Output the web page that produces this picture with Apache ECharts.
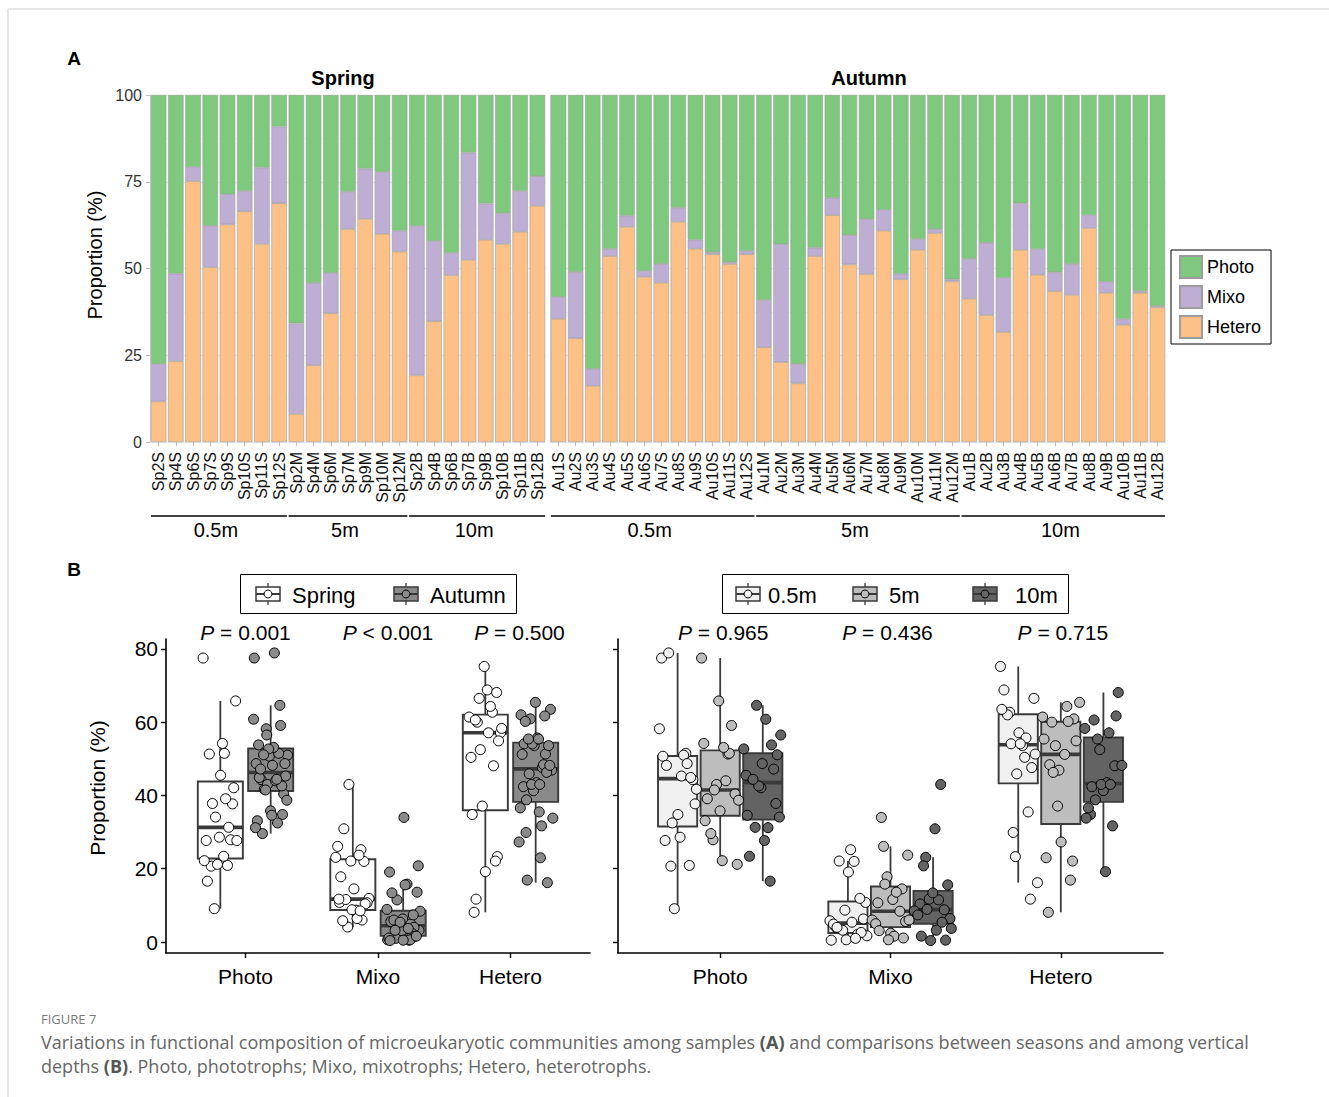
<!DOCTYPE html>
<html>
<head>
<meta charset="utf-8">
<script src="https://cdn.jsdelivr.net/npm/echarts@6/dist/echarts.min.js"></script>
<style>
  html, body { margin: 0; padding: 0; background: #ffffff; }
  #chart { width: 1329px; height: 1097px; }
</style>
</head>
<body>
<div id="chart"></div>
<script>
// ---- Sample composition (%), spring cruise ----
const springSamples = ['Sp2S','Sp4S','Sp6S','Sp7S','Sp9S','Sp10S','Sp11S','Sp12S',
  'Sp2M','Sp4M','Sp6M','Sp7M','Sp9M','Sp10M','Sp12M',
  'Sp2B','Sp4B','Sp6B','Sp7B','Sp9B','Sp10B','Sp11B','Sp12B'];
const springHetero = [11.7,23.3,75.2,50.4,62.7,66.5,57.1,68.8, 8.1,22.1,37.1,61.4,64.3,60.0,54.9, 19.2,34.8,48.1,52.5,58.3,57.1,60.6,68.1];
const springMixo   = [10.8,25.2,4.1,11.9,8.7,5.8,22.0,22.1, 26.1,23.7,11.6,10.7,14.5,17.8,6.0, 43.0,23.1,6.4,30.9,10.4,8.8,11.7,8.5];
const springPhoto  = [77.5,51.5,20.7,37.7,28.6,27.7,20.9,9.1, 65.8,54.2,51.3,27.9,21.2,22.2,39.1, 37.8,42.1,45.5,16.6,31.3,34.1,27.7,23.4];

// ---- Sample composition (%), autumn cruise ----
const autumnSamples = ['Au1S','Au2S','Au3S','Au4S','Au5S','Au6S','Au7S','Au8S','Au9S','Au10S','Au11S','Au12S',
  'Au1M','Au2M','Au3M','Au4M','Au5M','Au6M','Au7M','Au8M','Au9M','Au10M','Au11M','Au12M',
  'Au1B','Au2B','Au3B','Au4B','Au5B','Au6B','Au7B','Au8B','Au9B','Au10B','Au11B','Au12B'];
const autumnHetero = [35.5,29.9,16.2,53.6,62.0,47.6,45.9,63.5,55.7,54.1,51.3,54.1,
  27.3,23.0,16.9,53.6,65.4,51.2,48.4,60.9,46.9,55.4,60.2,46.3,
  41.3,36.6,31.7,55.4,48.2,43.5,42.4,61.7,43.0,33.8,43.0,38.8];
const autumnMixo = [6.3,19.1,4.9,2.1,3.2,1.7,5.4,4.0,2.6,0.6,0.5,1.0,
  13.6,34.0,5.6,2.4,5.0,8.4,15.8,6.0,1.6,3.1,1.1,0.6,
  11.5,20.8,15.6,13.4,7.4,5.4,8.9,3.7,3.2,1.6,0.5,0.4];
const autumnPhoto = [58.2,51.0,78.9,44.3,34.8,50.7,48.7,32.5,41.7,45.3,48.2,44.9,
  59.1,43.0,77.5,44.0,29.6,40.4,35.8,33.1,51.5,41.5,38.7,53.1,
  47.2,42.6,52.7,31.2,44.4,51.1,48.7,34.6,53.8,64.6,56.5,60.8];

// ---- Labels ----
const groups = ['Photo', 'Mixo', 'Hetero'];
const seasons = ['Spring', 'Autumn'];
const depths = ['0.5m', '5m', '10m'];
const depthBySuffix = { S: '0.5m', M: '5m', B: '10m' };
const seasonP = ['= 0.001', '< 0.001', '= 0.500'];
const depthP = ['= 0.965', '= 0.436', '= 0.715'];
const pctTicksB = [0, 20, 40, 60, 80];

const FONT = "'Liberation Sans', Arial, Helvetica, sans-serif";
const TYPE_COLORS = { Photo: '#7fc97f', Mixo: '#beaed4', Hetero: '#fdc086' };
const SEASON_FILL = { Spring: '#ffffff', Autumn: '#8a8a8a' };
const DEPTH_FILL = { '0.5m': '#f0f0f0', '5m': '#bdbdbd', '10m': '#636363' };
const BOX_LINE = '#3a3a3a';

const chart = echarts.init(document.getElementById('chart'), null, { renderer: 'svg' });

// ---------- helpers ----------
function quantile(sorted, p) {
  const h = (sorted.length - 1) * p;
  const lo = Math.floor(h);
  const hi = Math.min(lo + 1, sorted.length - 1);
  return sorted[lo] + (h - lo) * (sorted[hi] - sorted[lo]);
}
function boxStats(vals) {
  const s = vals.slice().sort((a, b) => a - b);
  const q1 = quantile(s, 0.25), med = quantile(s, 0.5), q3 = quantile(s, 0.75);
  const iqr = q3 - q1;
  const lo = s.find(v => v >= q1 - 1.5 * iqr);
  const hi = s.slice().reverse().find(v => v <= q3 + 1.5 * iqr);
  return [lo, q1, med, q3, hi];
}
// deterministic horizontal spread for overlapping points
function spread(i, k, w) {
  const f = (i * 0.6180339887 + k * 0.3719) % 1;
  return (2 * f - 1) * w;
}

function boxSeries(axisIdx, rows, fill, halfW) {
  return {
    type: 'custom',
    coordinateSystem: 'cartesian2d',
    xAxisIndex: axisIdx, yAxisIndex: axisIdx,
    silent: true, z: 2,
    dimensions: ['x', 'lo', 'q1', 'med', 'q3', 'hi'],
    encode: { x: 0, y: [1, 5] },
    data: rows,
    renderItem: function (params, api) {
      const x = api.value(0);
      const pLo = api.coord([x, api.value(1)]);
      const pQ1 = api.coord([x, api.value(2)]);
      const pMed = api.coord([x, api.value(3)]);
      const pQ3 = api.coord([x, api.value(4)]);
      const pHi = api.coord([x, api.value(5)]);
      const left = api.coord([x - halfW, api.value(2)])[0];
      const right = api.coord([x + halfW, api.value(2)])[0];
      const ls = { stroke: BOX_LINE, lineWidth: 1.8 };
      return {
        type: 'group',
        children: [
          { type: 'line', shape: { x1: pHi[0], y1: pHi[1], x2: pQ3[0], y2: pQ3[1] }, style: ls },
          { type: 'line', shape: { x1: pQ1[0], y1: pQ1[1], x2: pLo[0], y2: pLo[1] }, style: ls },
          { type: 'rect', shape: { x: left, y: pQ3[1], width: right - left, height: pQ1[1] - pQ3[1] },
            style: { fill: fill, stroke: BOX_LINE, lineWidth: 1.9 } },
          { type: 'line', shape: { x1: left, y1: pMed[1], x2: right, y2: pMed[1] },
            style: { stroke: BOX_LINE, lineWidth: 3.6 } }
        ]
      };
    }
  };
}
function pointSeries(axisIdx, pts, fill) {
  return {
    type: 'scatter', xAxisIndex: axisIdx, yAxisIndex: axisIdx,
    silent: true, z: 5, symbol: 'circle', symbolSize: 10,
    itemStyle: { color: fill, borderColor: '#000', borderWidth: 1, opacity: 1 },
    data: pts
  };
}

// ---------- panel A: stacked bars ----------
const barStyle = name => ({ color: TYPE_COLORS[name], borderColor: '#9c9c9c', borderWidth: 0.6 });
function barSet(axisIdx, stackId, hetero, mixo, photo) {
  const mk = (name, vals) => ({
    name: name, type: 'bar', stack: stackId,
    xAxisIndex: axisIdx, yAxisIndex: axisIdx,
    barCategoryGap: '10%', itemStyle: barStyle(name), data: vals, silent: true
  });
  return [mk('Hetero', hetero), mk('Mixo', mixo), mk('Photo', photo)];
}

const catAxisA = (data, idx) => ({
  type: 'category', gridIndex: idx, data: data,
  axisLine: { show: false },
  axisTick: { show: true, alignWithLabel: true, length: 4, lineStyle: { color: '#bdbdbd' } },
  axisLabel: { interval: 0, rotate: 90, fontSize: 16, color: '#111', fontFamily: FONT, margin: 10 },
  splitLine: { show: false }
});
const valAxisA = (idx, showLabels) => ({
  type: 'value', gridIndex: idx, min: 0, max: 100, interval: 25,
  axisLine: { show: true, lineStyle: { color: '#d4d4d4', width: 1 } },
  axisTick: { show: showLabels, length: 4, lineStyle: { color: '#bdbdbd' } },
  axisLabel: { show: showLabels, fontSize: 16, color: '#333', fontFamily: FONT, margin: 8 },
  splitLine: { show: true, lineStyle: { color: '#e6e6e6', width: 1 } },
  minorTick: { show: false, splitNumber: 2 },
  minorSplitLine: { show: true, lineStyle: { color: '#f0f0f0', width: 0.8 } }
});

// ---------- panel B: box plots ----------
const seasonVals = {
  Spring: { Photo: springPhoto, Mixo: springMixo, Hetero: springHetero },
  Autumn: { Photo: autumnPhoto, Mixo: autumnMixo, Hetero: autumnHetero }
};
const depthVals = {};
depths.forEach(d => { depthVals[d] = { Photo: [], Mixo: [], Hetero: [] }; });
springSamples.forEach((s, i) => {
  const d = depthBySuffix[s.slice(-1)];
  depthVals[d].Photo.push(springPhoto[i]); depthVals[d].Mixo.push(springMixo[i]); depthVals[d].Hetero.push(springHetero[i]);
});
autumnSamples.forEach((s, i) => {
  const d = depthBySuffix[s.slice(-1)];
  depthVals[d].Photo.push(autumnPhoto[i]); depthVals[d].Mixo.push(autumnMixo[i]); depthVals[d].Hetero.push(autumnHetero[i]);
});

const seriesB = [];
const SEASON_OFF = [-0.19, 0.19];
seasons.forEach((sea, si) => {
  const rows = [], pts = [];
  groups.forEach((g, gi) => {
    const x = gi + 1 + SEASON_OFF[si];
    rows.push([x].concat(boxStats(seasonVals[sea][g])));
    seasonVals[sea][g].forEach((v, i) => pts.push([x + spread(i, gi * 3 + si, 0.13), v]));
  });
  seriesB.push(boxSeries(2, rows, SEASON_FILL[sea], 0.17));
  seriesB.push(pointSeries(2, pts, SEASON_FILL[sea]));
});
const DEPTH_OFF = [-0.25, 0, 0.25];
depths.forEach((d, di) => {
  const rows = [], pts = [];
  groups.forEach((g, gi) => {
    const x = gi + 1 + DEPTH_OFF[di];
    rows.push([x].concat(boxStats(depthVals[d][g])));
    depthVals[d][g].forEach((v, i) => pts.push([x + spread(i, gi * 5 + di + 11, 0.115), v]));
  });
  seriesB.push(boxSeries(3, rows, DEPTH_FILL[d], 0.115));
  seriesB.push(pointSeries(3, pts, DEPTH_FILL[d]));
});

const catAxisB = idx => ({
  type: 'value', gridIndex: idx, min: 0.4, max: 3.6,
  axisLine: { show: true, onZero: false, lineStyle: { color: '#000', width: 1.6 } },
  axisTick: { show: true, customValues: [1, 2, 3], length: 5, lineStyle: { color: '#000', width: 1.4 } },
  axisLabel: { customValues: [1, 2, 3], formatter: v => groups[Math.round(v) - 1], fontSize: 21,
    color: '#000', fontFamily: FONT, margin: 13 },
  splitLine: { show: false }
});
const valAxisB = (idx, showLabels) => ({
  type: 'value', gridIndex: idx, min: -3, max: 82.7,
  axisLine: { show: true, onZero: false, lineStyle: { color: '#000', width: 1.6 } },
  axisTick: { show: true, customValues: pctTicksB, length: 5, lineStyle: { color: '#000', width: 1.4 } },
  axisLabel: { show: showLabels, customValues: pctTicksB, fontSize: 21, color: '#000', fontFamily: FONT, margin: 8 },
  splitLine: { show: false }
});

const option = {
  animation: false,
  backgroundColor: '#ffffff',
  textStyle: { fontFamily: FONT },
  grid: [
    { left: 150, top: 95, width: 396, height: 347 },
    { left: 550, top: 95, width: 616, height: 347 },
    { left: 166, top: 639, width: 424, height: 314 },
    { left: 618, top: 639, width: 545, height: 314 }
  ],
  legend: {
    data: ['Photo', 'Mixo', 'Hetero'],
    orient: 'vertical', left: 1171, top: 250,
    padding: [5, 10, 5, 8], itemGap: 6, itemWidth: 22, itemHeight: 22,
    icon: 'rect', borderColor: '#000', borderWidth: 1,
    textStyle: { fontSize: 18, lineHeight: 20, color: '#000', fontFamily: FONT }, selectedMode: false
  },
  xAxis: [catAxisA(springSamples, 0), catAxisA(autumnSamples, 1), catAxisB(2), catAxisB(3)],
  yAxis: [valAxisA(0, true), valAxisA(1, false), valAxisB(2, true), valAxisB(3, false)],
  series: barSet(0, 'spring', springHetero, springMixo, springPhoto)
    .concat(barSet(1, 'autumn', autumnHetero, autumnMixo, autumnPhoto))
    .concat(seriesB)
};
chart.setOption(option);

// ---------- annotations placed through the axes ----------
const gfx = [];
const txt = (x, y, text, size, opts) => Object.assign({
  type: 'text', x: x, y: y, silent: true,
  style: Object.assign({ text: text, fontSize: size, fontFamily: FONT, fill: '#000',
    textAlign: 'center', textVerticalAlign: 'middle' }, (opts && opts.style) || {})
}, (opts && opts.el) || {});

// page frame
gfx.push({ type: 'line', shape: { x1: 8, y1: 9, x2: 1329, y2: 9 }, style: { stroke: '#cfcfcf', lineWidth: 1 }, silent: true });
gfx.push({ type: 'line', shape: { x1: 8, y1: 9, x2: 8, y2: 1097 }, style: { stroke: '#cfcfcf', lineWidth: 1 }, silent: true });

// panel letters and facet strips
gfx.push(txt(74, 58, 'A', 19, { style: { fontWeight: 'bold' } }));
gfx.push(txt(74, 569, 'B', 19, { style: { fontWeight: 'bold' } }));
gfx.push(txt(150 + 396 / 2 - 5, 78, 'Spring', 20, { style: { fontWeight: 'bold' } }));
gfx.push(txt(550 + 616 / 2 + 11, 78, 'Autumn', 20, { style: { fontWeight: 'bold' } }));
gfx.push(txt(95, 255, 'Proportion (%)', 20, { el: { rotation: Math.PI / 2 } }));
gfx.push(txt(97, 788, 'Proportion (%)', 21, { el: { rotation: Math.PI / 2 } }));

// depth brackets under the sample labels
function brackets(axisIdx, samples, nCats, gridW) {
  const band = gridW / nCats;
  depths.forEach(d => {
    const members = samples.filter(s => depthBySuffix[s.slice(-1)] === d);
    const x1 = chart.convertToPixel({ xAxisIndex: axisIdx }, members[0]) - band * 0.45;
    const x2 = chart.convertToPixel({ xAxisIndex: axisIdx }, members[members.length - 1]) + band * 0.45;
    gfx.push({ type: 'line', silent: true, shape: { x1: x1, y1: 516, x2: x2, y2: 516 },
      style: { stroke: '#000', lineWidth: 1.4 } });
    gfx.push(txt((x1 + x2) / 2 - 3, 530, d, 20));
  });
}
brackets(0, springSamples, springSamples.length, 396);
brackets(1, autumnSamples, autumnSamples.length, 616);

// P-values above each group
const pShiftL = [0, 10, 9];
const pShiftR = [3, -3, 2];
function pLabel(x, y, text) {
  return { type: 'text', x: x, y: y, silent: true,
    style: { text: '{i|P} ' + text, textAlign: 'center', textVerticalAlign: 'middle',
      fontSize: 21, fontFamily: FONT, fill: '#000',
      rich: { i: { fontStyle: 'italic', fontSize: 21, fontFamily: FONT, fill: '#000' } } } };
}
groups.forEach((g, gi) => {
  const pL = chart.convertToPixel({ gridIndex: 2 }, [gi + 1, 82.7]);
  gfx.push(pLabel(pL[0] + pShiftL[gi], pL[1] - 7, seasonP[gi]));
  const pR = chart.convertToPixel({ gridIndex: 3 }, [gi + 1, 82.7]);
  gfx.push(pLabel(pR[0] + pShiftR[gi], pR[1] - 7, depthP[gi]));
});

// box-plot legend keys
function keyGlyph(cx, cy, fill) {
  return { type: 'group', silent: true, children: [
    { type: 'line', shape: { x1: cx, y1: cy - 11, x2: cx, y2: cy + 11 }, style: { stroke: BOX_LINE, lineWidth: 1.3 } },
    { type: 'rect', shape: { x: cx - 12, y: cy - 7, width: 24, height: 14 }, style: { fill: fill, stroke: BOX_LINE, lineWidth: 1.5 } },
    { type: 'line', shape: { x1: cx - 12, y1: cy, x2: cx + 12, y2: cy }, style: { stroke: BOX_LINE, lineWidth: 2 } },
    { type: 'circle', shape: { cx: cx, cy: cy, r: 4 }, style: { fill: fill, stroke: '#000', lineWidth: 1 } }
  ] };
}
gfx.push({ type: 'rect', silent: true, shape: { x: 240.5, y: 574.5, width: 276, height: 39 }, style: { fill: 'none', stroke: '#000', lineWidth: 1 } });
gfx.push(keyGlyph(268, 594, SEASON_FILL.Spring));
gfx.push(txt(292, 595, 'Spring', 22, { style: { textAlign: 'left' } }));
gfx.push(keyGlyph(406, 594, SEASON_FILL.Autumn));
gfx.push(txt(430, 595, 'Autumn', 22, { style: { textAlign: 'left' } }));

gfx.push({ type: 'rect', silent: true, shape: { x: 722.5, y: 574.5, width: 346, height: 39 }, style: { fill: 'none', stroke: '#000', lineWidth: 1 } });
gfx.push(keyGlyph(748, 594, DEPTH_FILL['0.5m']));
gfx.push(txt(768, 595, '0.5m', 22, { style: { textAlign: 'left' } }));
gfx.push(keyGlyph(865, 594, DEPTH_FILL['5m']));
gfx.push(txt(889, 595, '5m', 22, { style: { textAlign: 'left' } }));
gfx.push(keyGlyph(985, 594, DEPTH_FILL['10m']));
gfx.push(txt(1015, 595, '10m', 22, { style: { textAlign: 'left' } }));

// caption
const CAP_FONT = "'Open Sans', 'Noto Sans', sans-serif";
gfx.push({ type: 'text', x: 41, y: 1019, silent: true,
  style: { text: 'FIGURE 7', fontSize: 13, fontFamily: CAP_FONT, fill: '#7a7a7a', textVerticalAlign: 'middle' } });
gfx.push({ type: 'text', x: 41, y: 1042, silent: true,
  style: { text: 'Variations in functional composition of microeukaryotic communities among samples {b|(A)} and comparisons between seasons and among vertical',
    fontSize: 18, fontFamily: CAP_FONT, fill: '#666', textVerticalAlign: 'middle',
    rich: { b: { fontWeight: 'bold', fontSize: 18, fontFamily: CAP_FONT, fill: '#555' } } } });
gfx.push({ type: 'text', x: 41, y: 1066, silent: true,
  style: { text: 'depths {b|(B)}. Photo, phototrophs; Mixo, mixotrophs; Hetero, heterotrophs.',
    fontSize: 18, fontFamily: CAP_FONT, fill: '#666', textVerticalAlign: 'middle',
    rich: { b: { fontWeight: 'bold', fontSize: 18, fontFamily: CAP_FONT, fill: '#555' } } } });

chart.setOption({ graphic: gfx });
</script>
</body>
</html>
